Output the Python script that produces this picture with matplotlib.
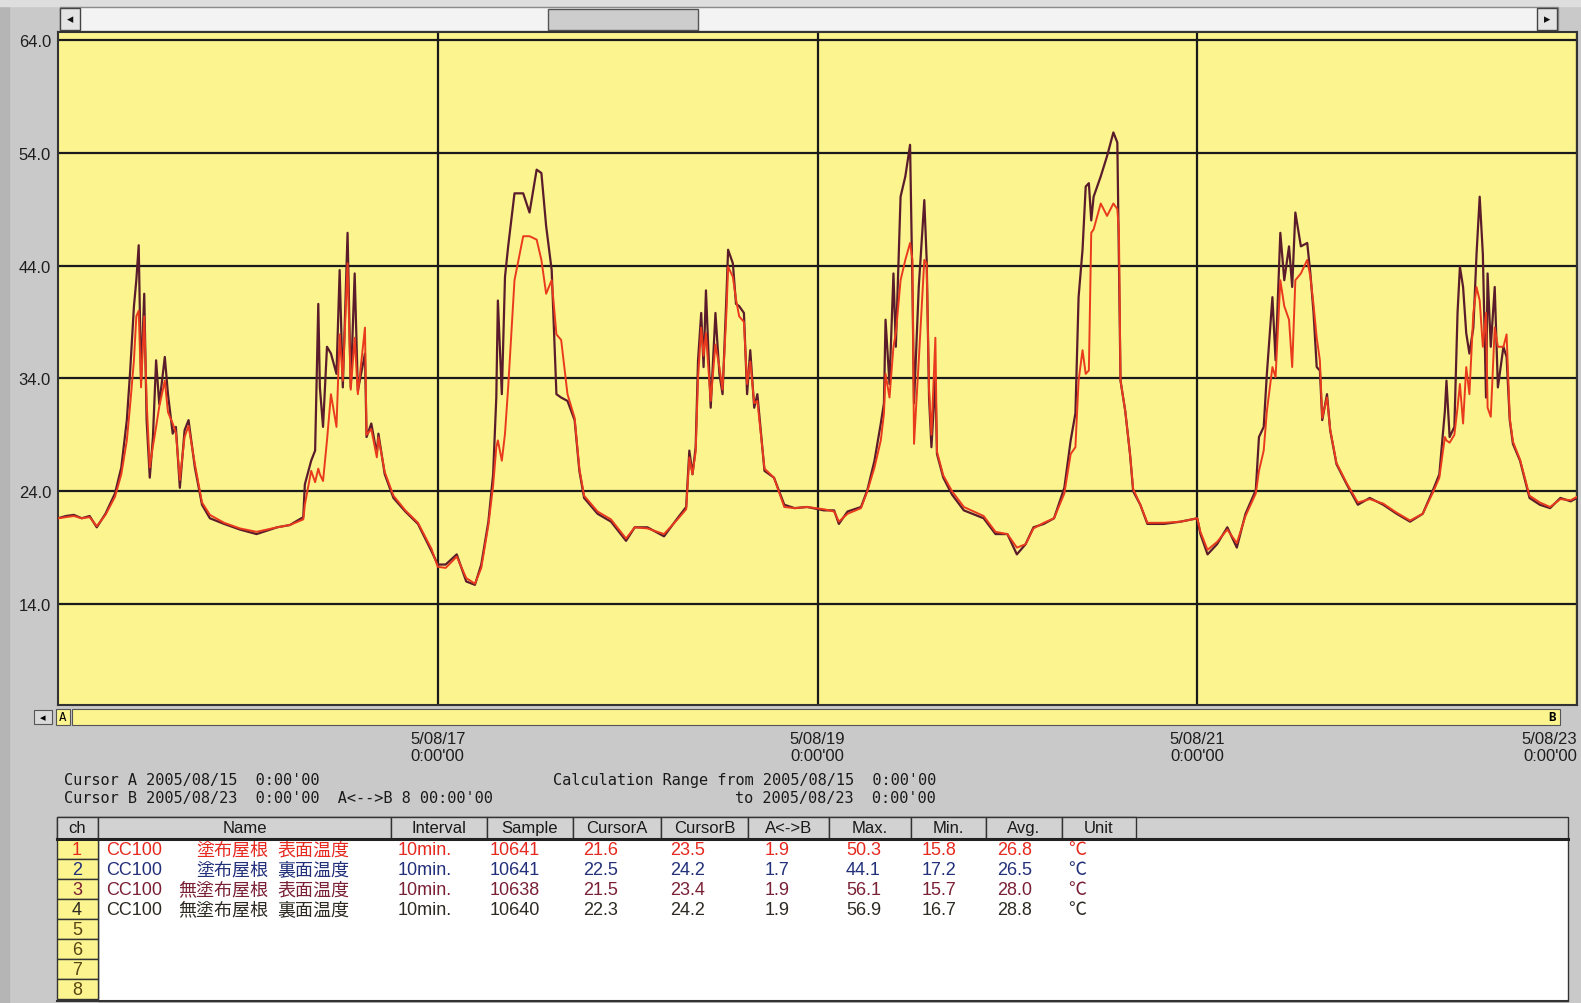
import matplotlib
matplotlib.use("Agg")
import matplotlib.pyplot as plt
from matplotlib.patches import Rectangle

# === DATA ===
# hours since 2005/08/15 0:00
hours = [0, 1, 2, 3, 4, 4.9, 6.0, 7.2, 8.0, 8.7, 9.1, 9.6, 9.9, 10.2, 10.5, 10.9, 11.2, 11.6,
         12.0, 12.4, 12.8, 13.5, 13.9, 14.5, 14.9, 15.4, 16.0, 16.5, 17.3, 18.2, 19.2, 21.0,
         23.0, 25.1, 27.7, 29.3, 31.0, 31.2, 32.0, 32.5, 32.9, 33.1, 33.5, 34.0, 34.5, 35.2,
         35.6, 36.0, 36.6, 37.0, 37.5, 37.9, 38.8, 39.0, 39.6, 40.3, 40.5, 41.3, 42.4, 43.9,
         45.5, 47.2, 48.0, 49.0, 50.4, 51.6, 52.7, 53.5, 54.4, 55.0, 55.4, 55.6, 56.1, 56.5,
         56.9, 57.7, 58.8, 59.6, 60.5, 61.1, 61.7, 62.4, 63.0, 63.6, 64.4, 65.3, 65.9, 66.5,
         68.2, 69.9, 71.8, 72.9, 74.5, 76.6, 78.3, 79.4, 79.8, 80.2, 80.6, 80.9, 81.3, 81.6,
         81.9, 82.5, 83.1, 83.6, 84.0, 84.5, 84.7, 85.3, 85.7, 86.1, 86.7, 87.1, 87.5, 88.0,
         88.4, 89.3, 90.5, 91.8, 93.1, 94.7, 96.8, 98.1, 98.7, 99.8, 101.5, 102.3, 103.2,
         104.0, 104.4, 104.6, 105.1, 105.6, 105.9, 106.5, 107.1, 107.7, 108.0, 108.2, 108.8,
         109.5, 109.8, 110.1, 110.4, 110.9, 111.1, 111.9, 113.0, 114.5, 117.0, 118.5, 120.0,
         121.2, 122.3, 123.3, 124.6, 125.9, 127.2, 128.0, 128.6, 129.0, 129.5, 129.9, 130.3,
         130.6, 130.9, 131.8, 132.6, 133.4, 133.9, 134.1, 134.3, 134.9, 135.5, 135.9, 136.8,
         137.7, 139.8, 141.9, 144.0, 144.4, 145.3, 146.5, 147.8, 149.0, 150.1, 151.4, 151.8,
         152.4, 152.8, 153.5, 153.9, 154.5, 155.0, 155.6, 156.0, 156.4, 157.1, 157.9, 158.3,
         158.7, 159.1, 159.5, 159.8, 160.4, 160.8, 161.6, 162.9, 164.3, 165.8, 167.5, 169.2,
         170.9, 172.5, 173.8, 174.6, 175.3, 175.5, 175.9, 176.5, 176.9, 177.2, 177.6, 178.0,
         178.4, 178.9, 179.3, 179.7, 180.1, 180.5, 180.7, 181.1, 181.6, 182.0, 182.7, 183.1,
         183.5, 183.9, 184.8, 186.0, 187.3, 188.6, 189.9, 191.2, 192.0]

# ch3  CC100 無塗布屋根 表面温度 (dark line)
ch3_temp = [21.6, 21.8, 21.9, 21.6, 21.8, 20.8, 22.0, 23.8, 26.1, 30.3, 34.4, 40.4, 42.7, 45.8,
            33.8, 41.5, 30.3, 25.2, 28.8, 35.6, 31.7, 35.9, 32.6, 29.1, 29.7, 24.3, 29.4, 30.3,
            26.1, 22.8, 21.6, 21.1, 20.6, 20.2, 20.8, 21.0, 21.7, 24.6, 26.7, 27.6, 40.6, 33.2,
            29.7, 36.8, 36.2, 34.4, 43.6, 33.2, 46.9, 33.2, 43.3, 32.9, 36.2, 28.8, 30.0, 27.3,
            29.1, 25.5, 23.4, 22.2, 21.1, 18.7, 17.5, 17.5, 18.4, 16.0, 15.7, 17.5, 21.3, 25.5,
            32.3, 40.9, 32.6, 43.0, 45.7, 50.4, 50.4, 48.7, 52.5, 52.2, 47.5, 43.6, 32.6, 32.3,
            32.0, 30.3, 25.8, 23.4, 22.0, 21.3, 19.6, 20.8, 20.8, 20.0, 21.6, 22.6, 27.6, 25.5,
            27.9, 35.6, 39.8, 35.0, 41.8, 31.4, 39.8, 34.4, 32.6, 41.5, 45.4, 44.2, 40.6, 40.4,
            39.8, 32.6, 36.5, 31.4, 32.6, 25.8, 25.2, 22.8, 22.5, 22.6, 22.3, 22.3, 21.1, 22.2,
            22.6, 24.1, 26.7, 30.0, 31.8, 39.2, 33.5, 43.3, 36.8, 50.1, 51.9, 54.7, 42.1, 31.8,
            42.1, 49.8, 44.5, 32.3, 27.9, 34.0, 27.3, 25.2, 23.7, 22.3, 21.6, 20.2, 20.2, 18.4,
            19.3, 20.8, 21.1, 21.6, 24.3, 28.5, 30.9, 41.2, 45.4, 51.0, 51.3, 48.0, 50.1, 51.9,
            53.7, 55.8, 54.9, 44.0, 33.8, 31.1, 27.3, 24.0, 22.8, 21.1, 21.1, 21.3, 21.6, 20.2,
            18.4, 19.3, 20.8, 19.0, 22.0, 24.1, 28.8, 29.7, 34.4, 41.2, 35.6, 46.9, 42.7, 45.7,
            42.1, 48.7, 45.7, 46.0, 43.3, 39.8, 35.0, 34.7, 30.3, 32.6, 29.4, 26.4, 24.6, 22.8,
            23.4, 22.8, 22.0, 21.3, 22.0, 24.1, 25.5, 31.1, 33.8, 28.8, 29.7, 39.8, 43.9, 42.1,
            38.0, 36.2, 38.5, 45.0, 50.1, 45.0, 32.3, 43.3, 36.8, 42.1, 33.2, 36.8, 35.9, 30.3,
            28.2, 26.7, 23.4, 22.8, 22.5, 23.4, 23.1, 23.4]

# ch1  CC100 塗布屋根 表面温度 (red line)
ch1_temp = [21.6, 21.7, 21.8, 21.6, 21.7, 20.9, 21.9, 23.5, 25.5, 28.5, 31.5, 35.6, 39.5, 40.0,
            33.2, 39.5, 32.0, 26.1, 28.0, 29.7, 31.5, 33.8, 31.0, 30.0, 29.2, 25.0, 28.8, 29.8,
            26.4, 23.0, 21.9, 21.2, 20.7, 20.4, 20.8, 21.0, 21.5, 22.8, 25.8, 24.8, 26.0, 25.5,
            24.9, 28.5, 32.6, 29.7, 37.9, 33.8, 44.2, 33.0, 37.6, 32.6, 38.5, 29.0, 29.5, 27.0,
            28.8, 25.7, 23.6, 22.3, 21.2, 18.9, 17.3, 17.2, 18.2, 16.3, 15.8, 17.2, 21.0, 24.5,
            27.9, 28.5, 26.7, 29.1, 33.2, 42.7, 46.6, 46.6, 46.3, 44.5, 41.5, 42.7, 37.9, 37.4,
            32.6, 30.5, 26.0, 23.6, 22.2, 21.5, 19.8, 20.8, 20.7, 20.2, 21.5, 22.4, 27.0, 25.5,
            27.5, 34.0, 38.5, 36.0, 38.0, 32.0, 37.0, 35.0, 33.0, 40.0, 43.9, 43.0, 41.0, 39.5,
            39.0, 33.5, 35.5, 31.8, 32.0, 26.0, 25.2, 22.6, 22.5, 22.6, 22.4, 22.2, 21.3, 22.0,
            22.5, 24.0, 26.1, 28.5, 30.9, 34.4, 32.3, 36.8, 38.0, 42.7, 44.5, 46.0, 44.5, 28.2,
            35.6, 44.5, 44.2, 33.0, 29.0, 37.6, 27.5, 25.4, 24.0, 22.6, 21.8, 20.4, 20.2, 19.0,
            19.3, 20.7, 21.2, 21.6, 23.8, 27.3, 27.9, 33.8, 36.5, 34.4, 34.7, 46.9, 47.2, 49.5,
            48.4, 49.5, 49.0, 47.0, 33.8, 31.1, 27.3, 24.2, 22.8, 21.2, 21.2, 21.3, 21.6, 20.4,
            18.8, 19.5, 20.6, 19.4, 21.8, 23.8, 25.8, 27.6, 31.1, 35.0, 34.1, 42.7, 40.4, 39.2,
            35.0, 42.7, 43.3, 44.5, 43.0, 40.5, 37.6, 35.6, 30.5, 32.3, 29.5, 26.5, 24.7, 23.0,
            23.3, 22.9, 22.1, 21.4, 22.0, 23.9, 25.2, 28.8, 28.5, 28.3, 29.0, 31.4, 33.5, 30.0,
            35.0, 32.6, 39.8, 42.1, 40.9, 36.8, 39.8, 31.4, 30.6, 38.5, 36.8, 36.8, 37.9, 30.5,
            28.4, 26.8, 23.6, 23.0, 22.6, 23.3, 23.2, 23.5]

y_ticks = [14.0, 24.0, 34.0, 44.0, 54.0, 64.0]
day_ticks = [48, 96, 144, 192]
day_labels = ["5/08/17\n0:00'00", "5/08/19\n0:00'00", "5/08/21\n0:00'00", "5/08/23\n0:00'00"]

# summary table
headers = ["ch", "Name", "Interval", "Sample", "CursorA", "CursorB", "A<->B", "Max.", "Min.", "Avg.", "Unit"]
channels = ["1", "2", "3", "4", "5", "6", "7", "8"]
name_model = ["CC100", "CC100", "CC100", "CC100"]
name_roof = ["塗布屋根", "塗布屋根", "無塗布屋根", "無塗布屋根"]
name_side = ["表面温度", "裏面温度", "表面温度", "裏面温度"]
intervals = ["10min.", "10min.", "10min.", "10min."]
samples = ["10641", "10641", "10638", "10640"]
cursor_a = ["21.6", "22.5", "21.5", "22.3"]
cursor_b = ["23.5", "24.2", "23.4", "24.2"]
a_to_b = ["1.9", "1.7", "1.9", "1.9"]
max_vals = ["50.3", "44.1", "56.1", "56.9"]
min_vals = ["15.8", "17.2", "15.7", "16.7"]
avg_vals = ["26.8", "26.5", "28.0", "28.8"]
units = ["℃", "℃", "℃", "℃"]

# === STYLE ===
W, H = 1581, 1004
GREY = "#c9c9c9"
YELLOW = "#fbf48f"
row_colors = ["#e5291f", "#22307a", "#7a2035", "#2c2a22"]
ch_num_colors = row_colors + ["#5a4515"] * 4
SANS = ["Liberation Sans", "Noto Sans CJK JP", "DejaVu Sans"]
plt.rcParams["font.family"] = SANS


def frac(x0, y0, x1, y1):
    return [x0 / W, 1 - y1 / H, (x1 - x0) / W, (y1 - y0) / H]


fig = plt.figure(figsize=(W / 100, H / 100), dpi=100, facecolor=GREY)

# background "window" layer in pixel coordinates
ui = fig.add_axes([0, 0, 1, 1], zorder=0)
ui.set_xlim(0, W)
ui.set_ylim(H, 0)
ui.axis("off")

ui.add_patch(Rectangle((0, 0), 9, H, color="#b5b5b5"))
ui.add_patch(Rectangle((0, 0), W, 7, color="#dedede"))

# top scrollbar
ui.add_patch(Rectangle((60, 8), 1498, 24, facecolor="#f3f3f3", edgecolor="#8a8a8a", lw=1))
for bx, arrow in [(60, "◂"), (1537, "▸")]:
    ui.add_patch(Rectangle((bx, 9), 20, 22, facecolor="#e4e4e4", edgecolor="#444", lw=1))
    ui.text(bx + 10, 20, arrow, ha="center", va="center", fontsize=9, color="#111",
            family="DejaVu Sans")
ui.add_patch(Rectangle((548, 10), 150, 21, facecolor="#cdcdcd", edgecolor="#555", lw=1))

# cursor strip under the plot
ui.add_patch(Rectangle((72, 710), 1488, 16, facecolor=YELLOW, edgecolor="#555", lw=0.8))
ui.add_patch(Rectangle((34, 711), 18, 14, facecolor="#d9d9d9", edgecolor="#555", lw=0.8))
ui.text(43, 718, "◂", ha="center", va="center", fontsize=8, family="DejaVu Sans")
ui.add_patch(Rectangle((56, 710), 14, 16, facecolor=YELLOW, edgecolor="#555", lw=0.8))
ui.text(63, 718, "A", ha="center", va="center", fontsize=9, family="DejaVu Sans Mono")
ui.text(1552, 718, "B", ha="center", va="center", fontsize=9, family="DejaVu Sans Mono",
        weight="bold")

# cursor / range texts
MONO = dict(family="DejaVu Sans Mono", fontsize=11, color="#1a1a1a", va="center")
ui.text(64, 781, "Cursor A 2005/08/15  0:00'00", ha="left", **MONO)
ui.text(64, 799, "Cursor B 2005/08/23  0:00'00  A<-->B 8 00:00'00", ha="left", **MONO)
ui.text(936, 781, "Calculation Range from 2005/08/15  0:00'00", ha="right", **MONO)
ui.text(936, 799, "to 2005/08/23  0:00'00", ha="right", **MONO)

# table
col_edges = [57, 98, 391, 487, 573, 661, 748, 829, 911, 986, 1062, 1136]
head_top, head_bot = 818, 840
row_h = 20
ui.add_patch(Rectangle((57, head_top), 1511, head_bot - head_top, facecolor="#d0d0d0",
                       edgecolor="#333", lw=1))
for i, name in enumerate(headers):
    x0, x1 = col_edges[i], col_edges[i + 1]
    ui.add_patch(Rectangle((x0, head_top), x1 - x0, head_bot - head_top, facecolor="#d2d2d2",
                           edgecolor="#333", lw=1))
    ui.text((x0 + x1) / 2, 829, name, ha="center", va="center", fontsize=12, color="#1a1a1a")
ui.add_patch(Rectangle((98, head_bot), 1470, row_h * 8 + 2, facecolor="white", edgecolor="#333",
                       lw=1))
ui.plot([57, 1568], [head_bot, head_bot], color="#222", lw=2.2)
ui.plot([57, 1568], [head_bot + row_h * 8 + 2] * 2, color="#333", lw=1.5)

for r, ch in enumerate(channels):
    top = head_bot + r * row_h
    ui.add_patch(Rectangle((57, top), 41, row_h, facecolor=YELLOW, edgecolor="#333", lw=1))
    ui.text(77, top + row_h / 2 + 1, ch, ha="center", va="center", fontsize=13,
            color=ch_num_colors[r])

cols_left = [398, 490, 583, 670, 765, 846, 922, 997, 1068]
for r in range(len(samples)):
    yc = head_bot + r * row_h + row_h / 2 + 1
    c = row_colors[r]
    ui.text(106, yc, name_model[r], ha="left", va="center", fontsize=13, color=c)
    ui.text(268, yc, name_roof[r], ha="right", va="center", fontsize=13, color=c)
    ui.text(277, yc, name_side[r], ha="left", va="center", fontsize=13, color=c)
    values = [intervals[r], samples[r], cursor_a[r], cursor_b[r], a_to_b[r],
              max_vals[r], min_vals[r], avg_vals[r], units[r]]
    for x, v in zip(cols_left, values):
        ui.text(x, yc, v, ha="left", va="center", fontsize=13, color=c)

# === CHART ===
ax = fig.add_axes(frac(58, 33, 1577, 706), zorder=2)
ax.set_facecolor(YELLOW)
ax.plot(hours, ch3_temp, color="#5a1c2a", lw=1.6, zorder=3)
ax.plot(hours, ch1_temp, color="#ea3a1e", lw=1.4, zorder=4)

ax.set_xlim(0, 192)
ax.set_ylim(5.05, 64.7)
ax.set_yticks(y_ticks)
ax.set_yticklabels([f"{v:.1f}" for v in y_ticks], fontsize=12, color="#1e1e1e")
ax.set_xticks(day_ticks)
ax.set_xticklabels(day_labels, fontsize=12, color="#1e1e1e", linespacing=1.1)
ax.get_xticklabels()[-1].set_horizontalalignment("right")
ax.tick_params(axis="y", length=0, pad=5)
ax.tick_params(axis="x", length=0, pad=19)
ax.grid(True, color="#1a1a1a", lw=1.6)
ax.set_axisbelow(True)
for s in ax.spines.values():
    s.set_color("#333")
    s.set_linewidth(1.5)

fig.savefig("out.png", dpi=100, facecolor=GREY)
